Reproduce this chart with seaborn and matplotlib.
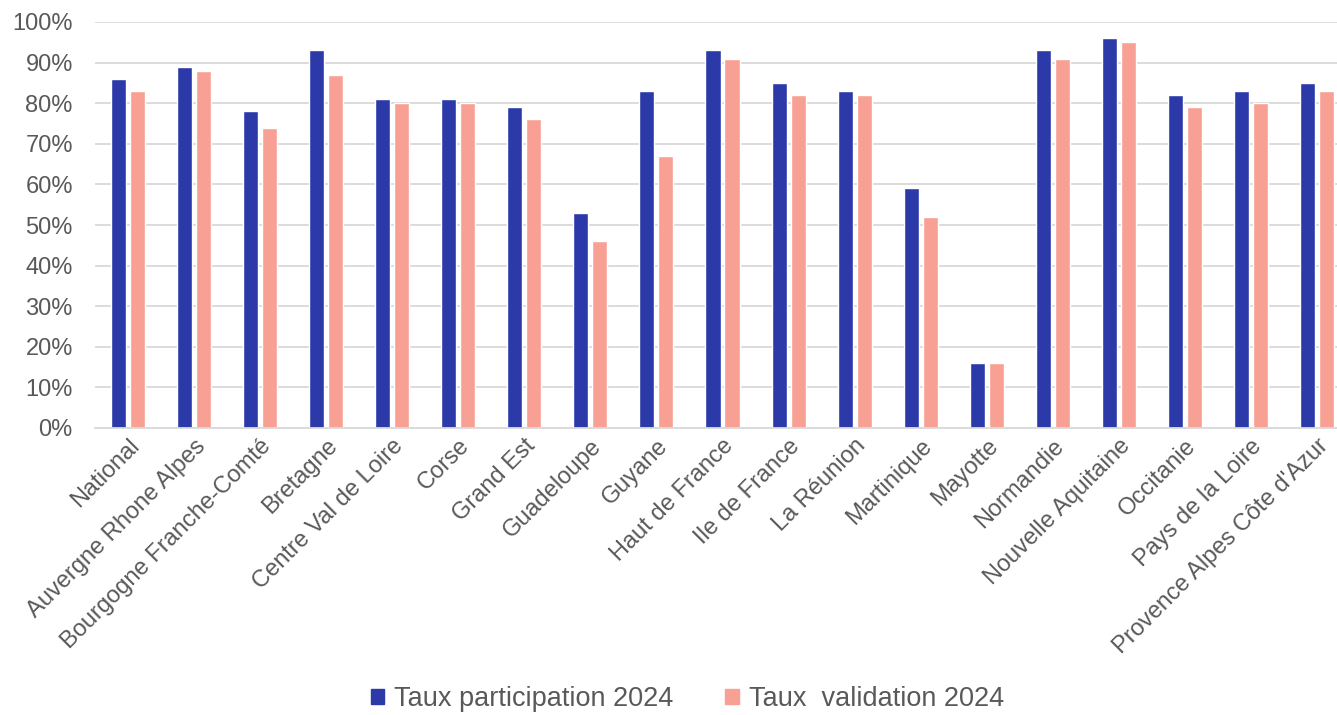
import matplotlib
matplotlib.use("Agg")
import matplotlib.pyplot as plt
import seaborn as sns
import pandas as pd
from matplotlib.ticker import PercentFormatter, MultipleLocator

regions = [
    "National", "Auvergne Rhone Alpes", "Bourgogne Franche-Comté", "Bretagne",
    "Centre Val de Loire", "Corse", "Grand Est", "Guadeloupe", "Guyane",
    "Haut de France", "Ile de France", "La Réunion", "Martinique", "Mayotte",
    "Normandie", "Nouvelle Aquitaine", "Occitanie", "Pays de la Loire",
    "Provence Alpes Côte d'Azur",
]
participation_2024 = [86, 89, 78, 93, 81, 81, 79, 53, 83, 93, 85, 83, 59, 16, 93, 96, 82, 83, 85]
validation_2024 = [83, 88, 74, 87, 80, 80, 76, 46, 67, 91, 82, 82, 52, 16, 91, 95, 79, 80, 83]
series_names = ["Taux participation 2024", "Taux  validation 2024"]

df = pd.DataFrame({
    "region": regions * 2,
    "taux": participation_2024 + validation_2024,
    "serie": [series_names[0]] * len(regions) + [series_names[1]] * len(regions),
})

sns.set_theme(style="white")
plt.rcParams["font.family"] = ["Liberation Sans", "DejaVu Sans"]

text_col = "#595959"
grid_col = "#d9d9d9"
palette = {series_names[0]: "#2b3aa8", series_names[1]: "#f7a093"}

fig = plt.figure(figsize=(13.37, 7.15), dpi=100)
ax = fig.add_axes([95 / 1337, (715 - 428) / 715, 1255 / 1337, 406 / 715])

sns.barplot(data=df, x="region", y="taux", hue="serie", palette=palette,
            width=0.576, gap=0.21, ax=ax, legend=False, saturation=1)

ax.set_xlim(-0.5, len(regions) - 0.5)
ax.set_ylim(0, 100)
ax.yaxis.set_major_locator(MultipleLocator(10))
ax.yaxis.set_major_formatter(PercentFormatter(decimals=0))
ax.grid(axis="y", color=grid_col, linewidth=1.3)
ax.set_axisbelow(True)
for side in ["top", "right", "left"]:
    ax.spines[side].set_visible(False)
ax.spines["bottom"].set_color(grid_col)
ax.spines["bottom"].set_linewidth(1.3)
ax.set_xlabel("")
ax.set_ylabel("")
ax.tick_params(axis="both", length=0, colors=text_col, labelsize=17)
ax.tick_params(axis="y", pad=16)
ax.tick_params(axis="x", pad=5)
plt.setp(ax.get_xticklabels(), rotation=45, ha="right", rotation_mode="anchor")

handles = [plt.Rectangle((0, 0), 1, 1, color=palette[s]) for s in series_names]
fig.legend(handles, series_names, loc="center", bbox_to_anchor=(0.514, 1 - 699 / 715),
           ncol=2, frameon=False, fontsize=19.5, handlelength=0.5, handleheight=0.5,
           handletextpad=0.37, columnspacing=1.9, labelcolor=text_col,
           borderpad=0, borderaxespad=0)

fig.savefig("out.png", dpi=100)
